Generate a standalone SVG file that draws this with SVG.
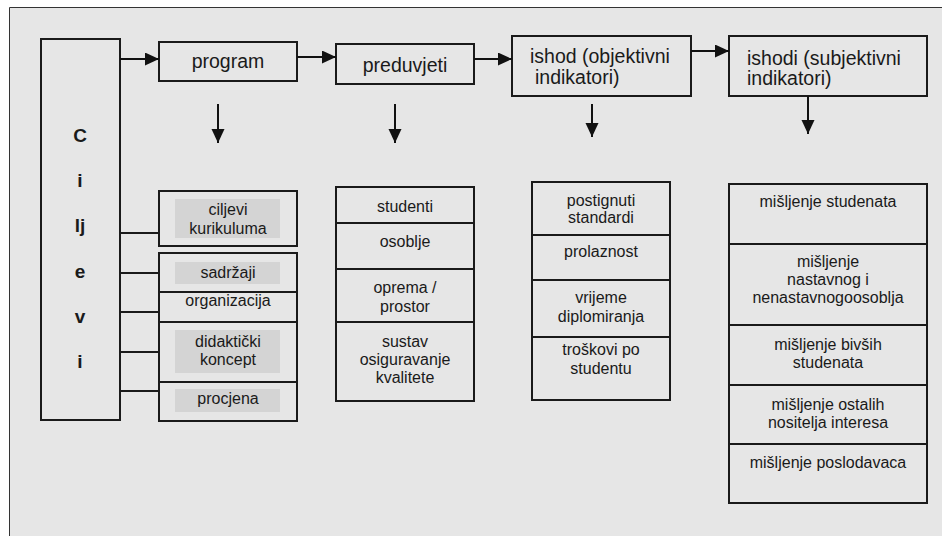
<svg xmlns="http://www.w3.org/2000/svg" width="942" height="536" viewBox="0 0 942 536">
<defs>
<marker id="ah" markerUnits="userSpaceOnUse" markerWidth="16" markerHeight="14" refX="14" refY="6.5" orient="auto">
<path d="M0,0 L14,6.5 L0,13 Z" fill="#111"/>
</marker>
<style>
.b{fill:none;stroke:#1a1a1a;stroke-width:2}
.c{stroke:#1a1a1a;stroke-width:2;fill:none}
.a{stroke:#111;stroke-width:2;fill:none;marker-end:url(#ah)}
.g{fill:#d4d4d4}
text{font-family:"Liberation Sans",Arial,sans-serif;fill:#1a1a1a}
.t{font-size:19.5px}
.l{font-size:16px;text-anchor:middle}
.m{font-size:19.5px;text-anchor:middle}
.k{font-size:19px;font-weight:bold;text-anchor:middle}
</style>
</defs>
<rect x="0" y="0" width="942" height="536" fill="#ffffff"/>
<rect x="9.5" y="7.5" width="933" height="529" fill="#e6e6e6"/>
<path d="M9.5,536 V7.5 H942" fill="none" stroke="#333" stroke-width="1"/>

<g id="ciljevi">
<rect class="b" x="41" y="39" width="79" height="381"/>
<text class="k" x="80" y="142">C</text>
<text class="k" x="80" y="187">i</text>
<text class="k" x="80" y="232">lj</text>
<text class="k" x="80" y="278">e</text>
<text class="k" x="80" y="323">v</text>
<text class="k" x="80" y="368">i</text>
</g>

<g id="program">
<rect class="b" x="159" y="42" width="138" height="39"/>
<text class="m" x="228" y="68">program</text>
</g>

<g id="preduvjeti">
<rect class="b" x="336" y="44" width="138" height="40"/>
<text class="m" x="405" y="72">preduvjeti</text>
</g>

<g id="ishod">
<rect class="b" x="512" y="36" width="179" height="60"/>
<text class="t" x="530" y="63">ishod (objektivni</text>
<text class="t" x="535" y="84">indikatori)</text>
</g>

<g id="ishodi">
<rect class="b" x="729" y="36" width="198" height="60"/>
<text class="t" x="747" y="65">ishodi (subjektivni</text>
<text class="t" x="747" y="85">indikatori)</text>
</g>

<g id="ciljevi-kurikuluma">
<rect class="b" x="159" y="191" width="138" height="55"/>
<rect class="g" x="175" y="199" width="105" height="39"/>
<text class="l" x="228" y="215">ciljevi</text>
<text class="l" x="228" y="234">kurikuluma</text>
</g>

<g id="program-list">
<rect class="b" x="159" y="253" width="138" height="168"/>
<line class="c" x1="159" y1="292" x2="297" y2="292"/>
<line class="c" x1="159" y1="322" x2="297" y2="322"/>
<line class="c" x1="159" y1="382" x2="297" y2="382"/>
<rect class="g" x="175" y="262" width="105" height="22"/>
<text class="l" x="228" y="278">sadržaji</text>
<text class="l" x="228" y="306">organizacija</text>
<rect class="g" x="175" y="330" width="105" height="43"/>
<text class="l" x="228" y="347">didaktički</text>
<text class="l" x="228" y="365">koncept</text>
<rect class="g" x="175" y="389" width="105" height="23"/>
<text class="l" x="228" y="404">procjena</text>
</g>

<g id="preduvjeti-list">
<rect class="b" x="336" y="187" width="138" height="214"/>
<line class="c" x1="336" y1="223" x2="474" y2="223"/>
<line class="c" x1="336" y1="269" x2="474" y2="269"/>
<line class="c" x1="336" y1="322" x2="474" y2="322"/>
<text class="l" x="405" y="212">studenti</text>
<text class="l" x="405" y="247">osoblje</text>
<text class="l" x="405" y="293">oprema /</text>
<text class="l" x="405" y="312">prostor</text>
<text class="l" x="405" y="347">sustav</text>
<text class="l" x="405" y="365">osiguravanje</text>
<text class="l" x="405" y="383">kvalitete</text>
</g>

<g id="ishod-list">
<rect class="b" x="532" y="182" width="138" height="218"/>
<line class="c" x1="532" y1="235" x2="670" y2="235"/>
<line class="c" x1="532" y1="280" x2="670" y2="280"/>
<line class="c" x1="532" y1="337" x2="670" y2="337"/>
<text class="l" x="601" y="206">postignuti</text>
<text class="l" x="601" y="223">standardi</text>
<text class="l" x="601" y="257">prolaznost</text>
<text class="l" x="601" y="303">vrijeme</text>
<text class="l" x="601" y="322">diplomiranja</text>
<text class="l" x="601" y="355">troškovi po</text>
<text class="l" x="601" y="374">studentu</text>
</g>

<g id="ishodi-list">
<rect class="b" x="729" y="184" width="198" height="319"/>
<line class="c" x1="729" y1="244" x2="927" y2="244"/>
<line class="c" x1="729" y1="325" x2="927" y2="325"/>
<line class="c" x1="729" y1="385" x2="927" y2="385"/>
<line class="c" x1="729" y1="444" x2="927" y2="444"/>
<text class="l" x="828" y="207">mišljenje studenata</text>
<text class="l" x="828" y="267">mišljenje</text>
<text class="l" x="828" y="285">nastavnog i</text>
<text class="l" x="828" y="303">nenastavnogoosoblja</text>
<text class="l" x="828" y="350">mišljenje bivših</text>
<text class="l" x="828" y="368">studenata</text>
<text class="l" x="828" y="410">mišljenje ostalih</text>
<text class="l" x="828" y="428">nositelja interesa</text>
<text class="l" x="828" y="468">mišljenje poslodavaca</text>
</g>

<g id="connectors">
<line class="a" x1="120" y1="59" x2="159" y2="59"/>
<line class="a" x1="297" y1="57" x2="336" y2="57"/>
<line class="a" x1="474" y1="59" x2="512" y2="59"/>
<line class="a" x1="691" y1="51" x2="729" y2="51"/>
<line class="a" x1="218" y1="104" x2="218" y2="143"/>
<line class="a" x1="395" y1="104" x2="395" y2="143"/>
<line class="a" x1="592" y1="104" x2="592" y2="137"/>
<line class="a" x1="808" y1="96" x2="808" y2="134"/>
<line class="c" x1="120" y1="233" x2="159" y2="233"/>
<line class="c" x1="120" y1="273" x2="159" y2="273"/>
<line class="c" x1="120" y1="312" x2="159" y2="312"/>
<line class="c" x1="120" y1="352" x2="159" y2="352"/>
<line class="c" x1="120" y1="391" x2="159" y2="391"/>
</g>
</svg>
